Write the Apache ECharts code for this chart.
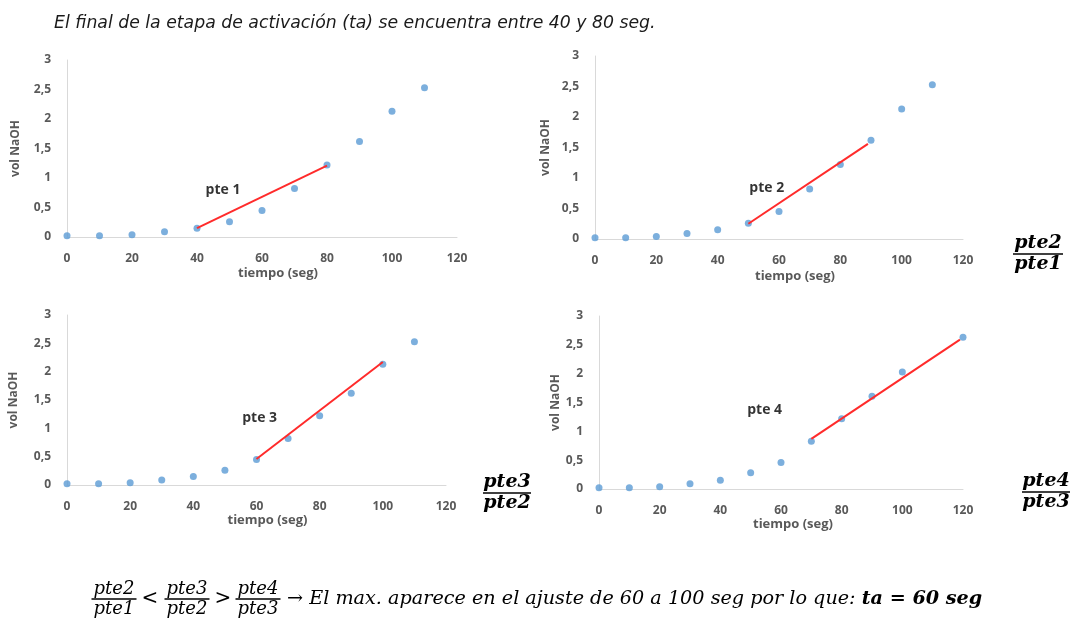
<!DOCTYPE html>
<html>
<head>
<meta charset="utf-8">
<script src="https://cdn.jsdelivr.net/npm/echarts@6/dist/echarts.min.js"></script>
<style>
  html, body { margin: 0; padding: 0; background: #fff; }
  #main { width: 1073px; height: 620px; }
</style>
</head>
<body>
<div id="main"></div>
<script>
  // datos
  var tiempo = [0, 10, 20, 30, 40, 50, 60, 70, 80, 90, 100, 110]
  var volNaOH = [0.02, 0.02, 0.04, 0.09, 0.15, 0.26, 0.45, 0.82, 1.22, 1.62, 2.13, 2.53]
  var tiempo4 = [0, 10, 20, 30, 40, 50, 60, 70, 80, 90, 100, 120]
  var volNaOH4 = [0.02, 0.02, 0.04, 0.09, 0.15, 0.28, 0.46, 0.83, 1.22, 1.61, 2.03, 2.63]
  // rectas de ajuste (inicio, fin)
  var ajusteX = [[40, 80], [50, 89], [60, 100], [70, 119]]
  var ajusteY = [[0.15, 1.21], [0.25, 1.56], [0.46, 2.17], [0.87, 2.59]]
  var etiquetas = ['pte 1', 'pte 2', 'pte 3', 'pte 4']
  var etiquetaX = [48, 56, 61, 54.6]
  var etiquetaY = [0.8, 0.83, 1.18, 1.37]
  var ticksX = [0, 20, 40, 60, 80, 100, 120]
  var ticksY = [0, 0.5, 1, 1.5, 2, 2.5, 3]

  var grids = [
    {left: 67, top: 60, width: 390, height: 177},
    {left: 595, top: 56, width: 368, height: 183},
    {left: 67, top: 315, width: 379, height: 170},
    {left: 599, top: 316, width: 364, height: 173}
  ]
  var nameShiftX = [32, 32, 22, 24]
  var nameGapX = [30, 31, 26, 27]
  var nameGapY = [45, 43, 47, 37]

  var grey = '#595959'
  var axisFont = {color: grey, fontFamily: 'Open Sans', fontWeight: 'bold', fontSize: 12}

  function puntos(i) {
    var xs = i === 3 ? tiempo4 : tiempo
    var ys = i === 3 ? volNaOH4 : volNaOH
    return xs.map(function (x, k) { return [x, ys[k]] })
  }

  var xAxis = [], yAxis = [], series = []
  grids.forEach(function (g, i) {
    xAxis.push({
      type: 'value', gridIndex: i,
      min: ticksX[0], max: ticksX[ticksX.length - 1], interval: 20,
      name: 'tiempo (seg)', nameLocation: 'middle', nameGap: nameGapX[i],
      nameTextStyle: {color: grey, fontFamily: 'Open Sans', fontWeight: 'bold', fontSize: 13,
        padding: [0, 0, 0, nameShiftX[i]]},
      axisLine: {show: true, lineStyle: {color: '#d9d9d9', width: 1}},
      axisTick: {show: false},
      splitLine: {show: false},
      axisLabel: Object.assign({margin: 16}, axisFont)
    })
    yAxis.push({
      type: 'value', gridIndex: i,
      min: ticksY[0], max: ticksY[ticksY.length - 1], interval: 0.5,
      name: 'vol NaOH', nameLocation: 'middle', nameGap: nameGapY[i], nameRotate: 90,
      nameTextStyle: {color: grey, fontFamily: 'Open Sans', fontWeight: 'bold', fontSize: 12},
      axisLine: {show: true, lineStyle: {color: '#d9d9d9', width: 1}},
      axisTick: {show: false},
      splitLine: {show: false},
      axisLabel: Object.assign({margin: 16, formatter: function (v) {
        return String(v).replace('.', ',')
      }}, axisFont)
    })
    series.push({
      type: 'scatter', xAxisIndex: i, yAxisIndex: i,
      symbolSize: 7,
      itemStyle: {color: '#5b9bd5'},
      data: puntos(i),
      z: 3
    })
    series.push({
      type: 'line', xAxisIndex: i, yAxisIndex: i,
      symbol: 'none',
      lineStyle: {color: '#ff2b2b', width: 2},
      data: [[ajusteX[i][0], ajusteY[i][0]], [ajusteX[i][1], ajusteY[i][1]]],
      z: 4
    })
    series.push({
      type: 'scatter', xAxisIndex: i, yAxisIndex: i,
      symbolSize: 0,
      label: {show: true, position: 'inside', formatter: etiquetas[i],
        color: '#000', fontFamily: 'Open Sans', fontWeight: 'bold', fontSize: 14},
      data: [[etiquetaX[i], etiquetaY[i]]]
    })
  })

  function fraccion(cx, cy, num, den, font, w, gap) {
    return [
      {type: 'text', x: cx, y: cy - gap, style: {text: num, font: font, fill: '#000',
        textAlign: 'center', textVerticalAlign: 'bottom'}},
      {type: 'line', shape: {x1: cx - w / 2, y1: cy, x2: cx + w / 2, y2: cy},
        style: {stroke: '#000', lineWidth: 1.5}},
      {type: 'text', x: cx, y: cy + gap, style: {text: den, font: font, fill: '#000',
        textAlign: 'center', textVerticalAlign: 'top'}}
    ]
  }

  var fracFont = 'italic bold 19px "DejaVu Serif"'
  var formulaFont = 'italic 18px "DejaVu Serif"'
  var graphic = [
    {type: 'text', x: 54, y: 24, style: {
      text: 'El final de la etapa de activación (ta) se encuentra entre 40 y 80 seg.',
      font: 'italic 17.3px "DejaVu Sans"', fill: '#1a1a1a', textVerticalAlign: 'middle'}}
  ]
  graphic = graphic
    .concat(fraccion(1038, 254, 'pte2', 'pte1', fracFont, 50, 1))
    .concat(fraccion(507, 493, 'pte3', 'pte2', fracFont, 48, 1))
    .concat(fraccion(1046, 492, 'pte4', 'pte3', fracFont, 48, 1))
    .concat(fraccion(114, 599, 'pte2', 'pte1', formulaFont, 45, 1))
    .concat(fraccion(187, 599, 'pte3', 'pte2', formulaFont, 45, 1))
    .concat(fraccion(258, 599, 'pte4', 'pte3', formulaFont, 45, 1))
    .concat([
      {type: 'text', x: 150, y: 599, style: {text: '<', font: '20px "DejaVu Serif"', fill: '#000',
        textAlign: 'center', textVerticalAlign: 'middle'}},
      {type: 'text', x: 223, y: 599, style: {text: '>', font: '20px "DejaVu Serif"', fill: '#000',
        textAlign: 'center', textVerticalAlign: 'middle'}},
      {type: 'text', x: 287, y: 599, style: {
        text: '{n|→ El max. aparece en el ajuste de 60 a 100 seg por lo que: }{b|ta = 60 seg}',
        textVerticalAlign: 'middle',
        rich: {
          n: {font: 'italic 19.2px "DejaVu Serif"', fill: '#000'},
          b: {font: 'italic bold 19.2px "DejaVu Serif"', fill: '#000'}
        }}}
    ])

  var chart = echarts.init(document.getElementById('main'))
  chart.setOption({
    animation: false,
    grid: grids,
    xAxis: xAxis,
    yAxis: yAxis,
    series: series,
    graphic: graphic
  })
</script>
</body>
</html>
